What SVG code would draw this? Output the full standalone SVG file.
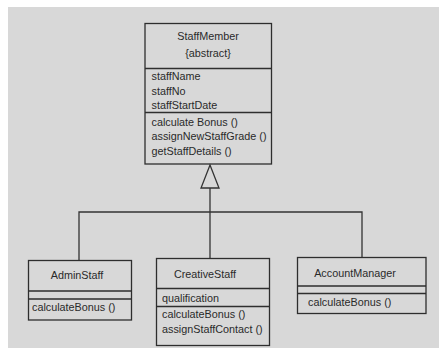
<svg xmlns="http://www.w3.org/2000/svg" width="439" height="348" viewBox="0 0 439 348">
  <style>
    .box { fill: none; stroke: #2e2e2e; stroke-width: 1.3; }
    .div { stroke: #2e2e2e; stroke-width: 1.3; }
    .wire { fill: none; stroke: #333; stroke-width: 1.3; }
    .head { fill: #d8d8d8; stroke: #333; stroke-width: 1.3; }
    text { font-family: "Liberation Sans", Arial, sans-serif; font-size: 10.8px; fill: #2a2a2a; }
    .c { text-anchor: middle; }
  </style>
  <rect x="0" y="0" width="439" height="348" fill="#ffffff"/>
  <rect x="8" y="7" width="431" height="341" fill="#d8d8d8"/>

  <g id="connectors">
    <line class="wire" x1="210" y1="258.5" x2="210" y2="188"/>
    <path class="wire" d="M79,260.5 V212 H362 V257.5"/>
    <!-- hollow generalization arrowhead -->
    <path class="head" d="M210,165 L219,188 L201,188 Z"/>
  </g>

  <g id="StaffMember">
    <rect class="box" x="145" y="23.5" width="126.5" height="140.5"/>
    <line class="div" x1="145" y1="68.5" x2="271.5" y2="68.5"/>
    <line class="div" x1="145" y1="112.5" x2="271.5" y2="112.5"/>
    <text class="c" x="208" y="40">StaffMember</text>
    <text class="c" x="208" y="57">{abstract}</text>
    <text x="151.5" y="80">staffName</text>
    <text x="151.5" y="94.5">staffNo</text>
    <text x="151.5" y="109">staffStartDate</text>
    <text x="151.5" y="125.5">calculate Bonus ()</text>
    <text x="151.5" y="140">assignNewStaffGrade ()</text>
    <text x="151.5" y="154.5">getStaffDetails ()</text>
  </g>

  <g id="AdminStaff">
    <rect class="box" x="28.5" y="260.5" width="103" height="59.5"/>
    <line class="div" x1="28.5" y1="291" x2="131.5" y2="291"/>
    <line class="div" x1="28.5" y1="299" x2="131.5" y2="299"/>
    <text class="c" x="77" y="279">AdminStaff</text>
    <text x="32" y="311">calculateBonus ()</text>
  </g>

  <g id="CreativeStaff">
    <rect class="box" x="156.5" y="258.5" width="113" height="87"/>
    <line class="div" x1="156.5" y1="288.5" x2="269.5" y2="288.5"/>
    <line class="div" x1="156.5" y1="306.5" x2="269.5" y2="306.5"/>
    <text class="c" x="205" y="278">CreativeStaff</text>
    <text x="162" y="301.5">qualification</text>
    <text x="162" y="318">calculateBonus ()</text>
    <text x="162" y="333">assignStaffContact ()</text>
  </g>

  <g id="AccountManager">
    <rect class="box" x="297.5" y="257.5" width="128.5" height="56"/>
    <line class="div" x1="297.5" y1="286" x2="426" y2="286"/>
    <line class="div" x1="297.5" y1="293.5" x2="426" y2="293.5"/>
    <text class="c" x="355" y="277">AccountManager</text>
    <text x="308" y="306">calculateBonus ()</text>
  </g>
</svg>
